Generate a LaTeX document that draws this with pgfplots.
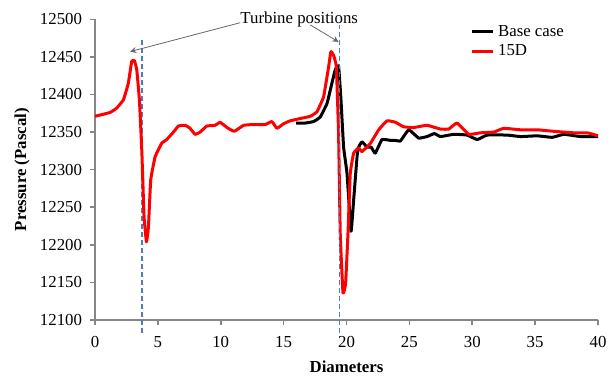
\documentclass[border=0pt]{standalone}
\usepackage{fontspec}
\setmainfont{Liberation Serif}
\usepackage{pgfplots}
\pgfplotsset{compat=1.18}
\definecolor{axgray}{HTML}{868686}
\definecolor{dashblue}{HTML}{4A7EBB}
\begin{document}
\fontsize{8.4}{10}\selectfont
\begin{tikzpicture}
\begin{axis}[
  at={(0,0)}, anchor=south west,
  scale only axis, width=251.5pt, height=150.35pt,
  xmin=0, xmax=40, ymin=12100, ymax=12500,
  xtick={0,5,...,40}, ytick={12100,12150,...,12500},
  scaled y ticks=false, scaled x ticks=false,
  yticklabel={\pgfmathprintnumber[fixed,precision=0,1000 sep={}]{\tick}},
  axis x line*=bottom, axis y line*=left,
  axis line style={axgray, line width=1pt},
  tick style={axgray, line width=0.8pt},
  tick align=outside, major tick length=2.5pt,
  /pgf/number format/assume math mode=true,
  /pgf/number format/1000 sep={},
  tick label style={font=\fontsize{8.4}{10}\selectfont},
  xticklabel style={yshift=-2.5pt},
  yticklabel style={xshift=-1pt},
  xlabel={\textbf{Diameters}}, ylabel={\textbf{Pressure (Pascal)}},
  xlabel style={at={(axis description cs:0.5,-0.156)}, anchor=center, font=\fontsize{8.4}{10}\selectfont},
  ylabel style={at={(axis description cs:-0.145,0.5)}, anchor=center, font=\fontsize{8.4}{10}\selectfont},
  clip=false,
  legend style={at={(rel axis cs:0.745,0.995)}, anchor=north west, draw=none, fill=none,
    inner sep=0pt, row sep=-1pt, font=\fontsize{8.4}{10}\selectfont, cells={anchor=west}},
  legend image code/.code={\draw[#1] (0pt,0pt) -- (10.5pt,0pt);},
]
\addplot[dashblue, line width=0.75pt, dash pattern=on 2.5pt off 1.5pt, forget plot] coordinates {(3.72,12083) (3.72,12474)};
\addplot[black, line width=1.5pt, smooth, tension=0.2, line join=round] coordinates {
(16,12362) (16.72,12362) (17.38,12364) (17.91,12370) (18.45,12388) (18.84,12415)
(19.11,12433) (19.37,12438) (19.56,12393) (19.77,12330) (20.04,12295) (20.36,12218)
(20.57,12260) (20.89,12326) (21.23,12337) (21.63,12330) (21.95,12330) (22.29,12322)
(22.82,12340) (23.49,12339) (23.89,12339) (24.28,12338) (24.95,12353) (25.74,12342)
(26.4,12344) (26.99,12348) (27.47,12344) (28.53,12347) (29.59,12346) (30.39,12340)
(31.19,12346) (32.78,12346) (33.84,12344) (35.17,12345) (36.36,12343) (37.28,12347)
(38.61,12344) (40,12344)};
\addlegendentry{Base case}
\addplot[red, line width=1.5pt, smooth, tension=0.2, line join=round] coordinates {
(0,12371) (1.19,12376) (1.73,12382) (2.26,12393) (2.65,12415) (2.92,12444) (3.13,12445)
(3.32,12433) (3.53,12393) (3.72,12326) (3.90,12238) (4.09,12204) (4.25,12224) (4.43,12286)
(4.78,12317) (5.3,12335) (5.7,12340) (6.24,12350) (6.63,12358) (7.17,12359) (7.56,12355)
(7.96,12347) (8.36,12350) (8.89,12358) (9.55,12359) (9.95,12363) (10.5,12356) (11.07,12351)
(11.82,12359) (12.6,12360) (13.54,12360) (14.07,12364) (14.47,12355) (14.99,12361)
(15.53,12365) (16.32,12368) (17.12,12371) (17.65,12377) (18.18,12397) (18.58,12437)
(18.76,12457) (18.97,12452) (19.19,12437) (19.37,12348) (19.5,12216) (19.72,12136)
(19.93,12149) (20.12,12216) (20.3,12295) (20.57,12322) (20.96,12329) (21.23,12324)
(21.9,12335) (22.56,12353) (23.22,12365) (23.89,12363) (24.55,12357) (25.35,12356)
(26.4,12359) (27.47,12354) (28.13,12354) (28.79,12362) (29.72,12347) (30.65,12349)
(31.71,12350) (32.51,12355) (33.84,12353) (35.17,12353) (36.49,12351) (38.08,12349)
(39.15,12349) (40,12345)};
\addlegendentry{15D}
\addplot[dashblue, line width=0.75pt, dash pattern=on 2.5pt off 1.5pt, forget plot] coordinates {(19.43,12083) (19.43,12492)};
\node[anchor=base, inner sep=0pt] at (axis cs:16.24,12494.7) {Turbine positions};
\draw[gray!80!black, line width=0.4pt, -stealth] (axis cs:11.55,12495.5) -- (axis cs:2.79,12457);
\draw[gray!80!black, line width=0.4pt, -stealth] (axis cs:17.12,12492.5) -- (axis cs:19.37,12470);
\end{axis}
\pgfresetboundingbox
\path[use as bounding box] (-47.5pt,-27.5pt) rectangle (259pt,160pt);
\end{tikzpicture}
\end{document}
